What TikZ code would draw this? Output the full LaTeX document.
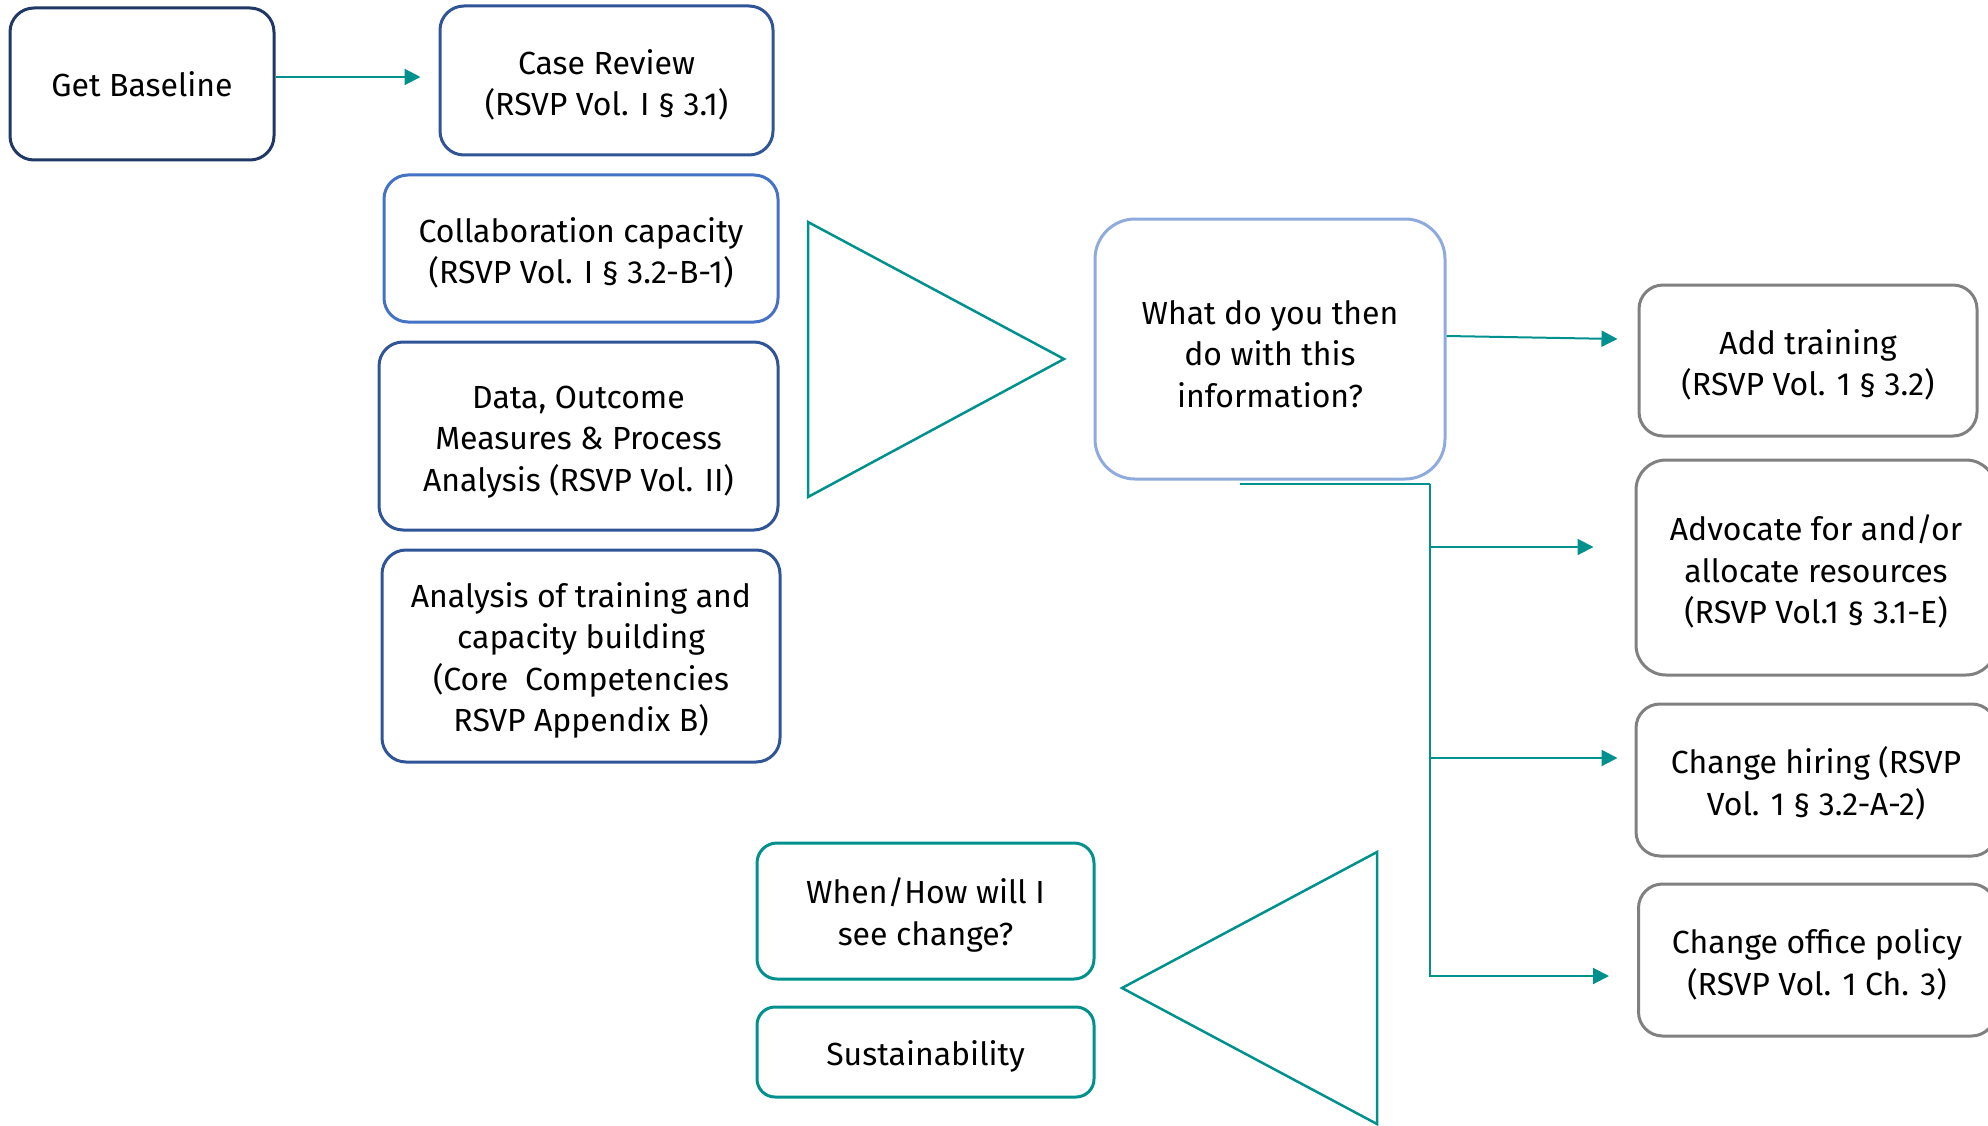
\documentclass[tikz,border=0pt]{standalone}
\usepackage{fontspec}
\setmainfont{Fira Sans}
\usetikzlibrary{arrows.meta}
\definecolor{navy}{RGB}{32,56,100}
\definecolor{midblue}{RGB}{47,85,151}
\definecolor{liteblue}{RGB}{68,114,196}
\definecolor{paleblue}{RGB}{143,170,220}
\definecolor{greyb}{RGB}{128,128,128}
\definecolor{teal}{RGB}{0,145,143}
\newcommand{\tp}{\rule{0pt}{34pt}}
\tikzset{
  box/.style={draw, line width=3pt, rounded corners=24pt, align=center, inner sep=0pt,
    font=\fontsize{32}{41.5}\selectfont, text=black},
  conn/.style={draw=teal, line width=2pt},
  arr/.style={conn, -{Triangle[length=16pt,width=16pt]}},
  tri/.style={draw=teal, line width=2.5pt}
}
\begin{document}
\begin{tikzpicture}[x=1pt,y=-1pt]
\useasboundingbox (0,0) rectangle (1988,1126);
\node[box, draw=navy, minimum width=264pt, minimum height=152pt] (base) at (142,84) {Get Baseline};
\node[box, draw=midblue, minimum width=333pt, minimum height=149pt] (case) at (606.5,80.5) {\tp Case Review\\(RSVP Vol. I § 3.1)};
\node[box, draw=liteblue, minimum width=394pt, minimum height=147pt] (collab) at (581,248.5) {\tp Collaboration capacity\\(RSVP Vol. I § 3.2-B-1)};
\node[box, draw=midblue, minimum width=399pt, minimum height=188pt] (data) at (578.5,436) {\tp Data, Outcome\\Measures \& Process\\Analysis (RSVP Vol. II)};
\node[box, draw=midblue, minimum width=398pt, minimum height=212pt] (anal) at (581,656) {\tp Analysis of training and\\capacity building\\(Core\ \ Competencies\\RSVP Appendix B)};
\node[box, draw=paleblue, rounded corners=40pt, minimum width=350pt, minimum height=260pt] (what) at (1270,349) {\tp What do you then\\do with this\\information?};
\node[box, draw=greyb, minimum width=338pt, minimum height=151pt] (add) at (1808,360.5) {\tp Add training\\(RSVP Vol. 1 § 3.2)};
\node[box, draw=greyb, rounded corners=30pt, minimum width=360pt, minimum height=215pt] (adv) at (1816,567.5) {\tp Advocate for and/or\\allocate resources\\(RSVP Vol.1 § 3.1-E)};
\node[box, draw=greyb, minimum width=360pt, minimum height=152pt] (hire) at (1816,780) {\tp Change hiring (RSVP\\Vol. 1 § 3.2-A-2)};
\node[box, draw=greyb, minimum width=357pt, minimum height=152pt] (office) at (1817,960) {\tp Change office policy\\(RSVP Vol. 1 Ch. 3)};
\node[box, draw=teal, rounded corners=20pt, minimum width=337pt, minimum height=136pt] (when) at (925.5,911) {\tp When/How will I\\see change?};
\node[box, draw=teal, rounded corners=18pt, minimum width=337pt, minimum height=90pt] (sust) at (925.5,1052) {\tp Sustainability};
% triangles
\draw[tri] (808,222) -- (1064,359) -- (808,497) -- cycle;
\draw[tri] (1377,852) -- (1122,988) -- (1377,1124) -- cycle;
% connectors
\draw[arr] ([yshift=7pt]base.east) -- ([xshift=-18pt,yshift=3.5pt]case.west);
\draw[arr] ([yshift=13pt]what.east) -- ([xshift=-20pt,yshift=21.5pt]add.west);
\coordinate (j) at ([xshift=160pt,yshift=-3pt]what.south);
\draw[conn] ([xshift=-30pt,yshift=-3pt]what.south) -- (j);
\draw[arr] (j) |- ([xshift=-41pt,yshift=20.5pt]adv.west);
\draw[arr] (j) |- ([xshift=-17pt,yshift=22pt]hire.west);
\draw[arr] (j) |- ([xshift=-28pt,yshift=-16pt]office.west);
\end{tikzpicture}
\end{document}
